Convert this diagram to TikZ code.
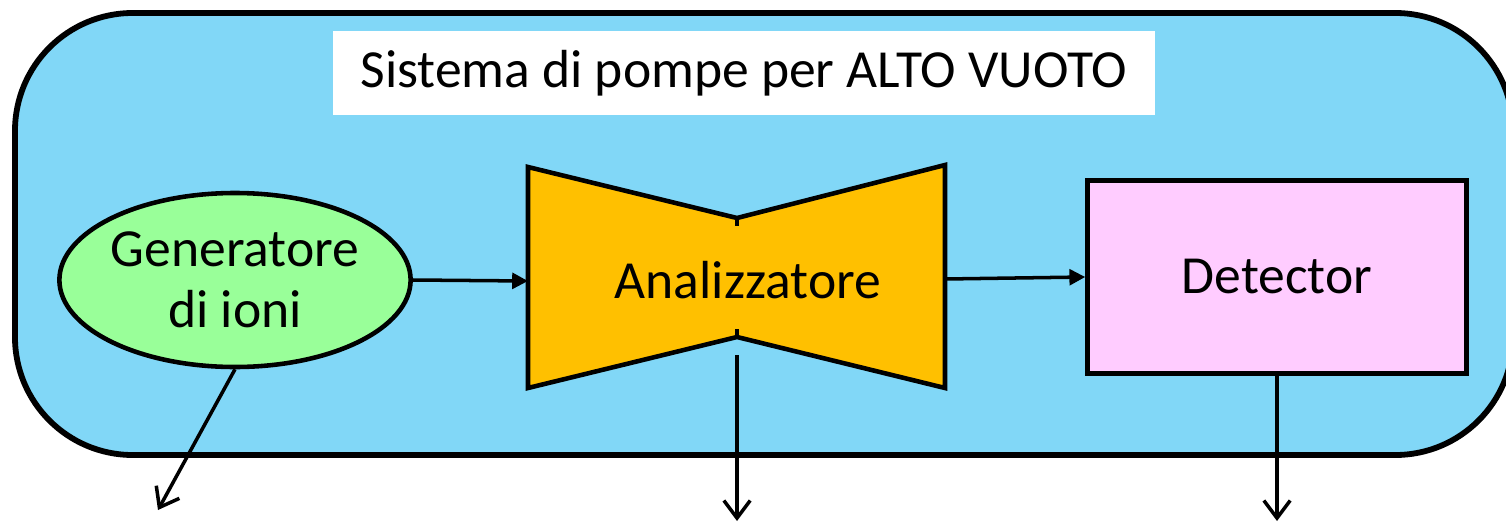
\documentclass[tikz,border=0pt]{standalone}
\usepackage{fontspec}
\setmainfont{Carlito}
\usetikzlibrary{arrows.meta, shapes.geometric, positioning}
\definecolor{vacblue}   {RGB}{129, 215, 247}
\definecolor{iongreen}  {RGB}{153, 255, 153}
\definecolor{anaorange} {RGB}{255, 192,   0}
\definecolor{detpink}   {RGB}{255, 204, 255}

\begin{document}
\begin{tikzpicture}[x=0.02cm, y=-0.02cm,
	lbl/.style={font=\fontsize{30.5}{35}\selectfont, align=center, text=black},
	feed/.style={line width=2pt, -{Triangle[length=9pt,width=9pt]}},
	pump/.style={line width=2pt, -{Straight Barb[length=10pt,width=15pt,line width=2pt]}}]
	\useasboundingbox (0,0) rectangle (1506,524);
	\clip (0,0) rectangle (1506,524);
	% camera a vuoto
	\draw[line width=3.3pt, fill=vacblue, rounded corners=67pt] (15,13) rectangle (1513,455);
	\node[lbl, fill=white, minimum width=822*0.02cm, minimum height=84*0.02cm, inner sep=0pt] (title) at (744,73) {Sistema di pompe per ALTO VUOTO};
	% sorgente
	\node[lbl, ellipse, draw, line width=2.6pt, fill=iongreen, minimum width=343*0.02cm, minimum height=174*0.02cm, inner sep=0pt] (gen) at (235,280) {Generatore\\di ioni};
	% analizzatore
	\coordinate (ana-nw) at (528,167);
	\coordinate (ana-n)  at (737,218);
	\coordinate (ana-ne) at (945,165);
	\coordinate (ana-se) at (945,388);
	\coordinate (ana-s)  at (737,337);
	\coordinate (ana-sw) at (528,388);
	\draw[line width=2.6pt, fill=anaorange, line join=miter] (ana-nw) -- (ana-n) -- (ana-ne) -- (ana-se) -- (ana-s) -- (ana-sw) -- cycle;
	\draw[line width=2pt] (ana-n) -- ++(0,8);
	\draw[line width=2pt] (ana-s) -- ++(0,-8);
	\node[lbl] (ana) at (748,280) {Analizzatore};
	% rivelatore
	\node[lbl, draw, line width=2.6pt, fill=detpink, minimum width=379*0.02cm, minimum height=193*0.02cm, inner sep=0pt] (det) at (1277,277) {Detector};
	% flusso
	\coordinate (ana-w) at (528,281);
	\coordinate (ana-e) at (945,279);
	\draw[feed] (gen.east) -- (ana-w);
	\draw[feed] (ana-e) -- (det.west);
	% pompe
	\coordinate (gen-pump) at (158,510);
	\coordinate (ana-top) at (737,355);
	\coordinate (ana-pump) at (737,521);
	\coordinate (det-pump) at (1277,521);
	\draw[pump] (gen.south) -- (gen-pump);
	\draw[pump] (ana-top) -- (ana-pump);
	\draw[pump] (det.south) -- (det-pump);
\end{tikzpicture}
\end{document}
